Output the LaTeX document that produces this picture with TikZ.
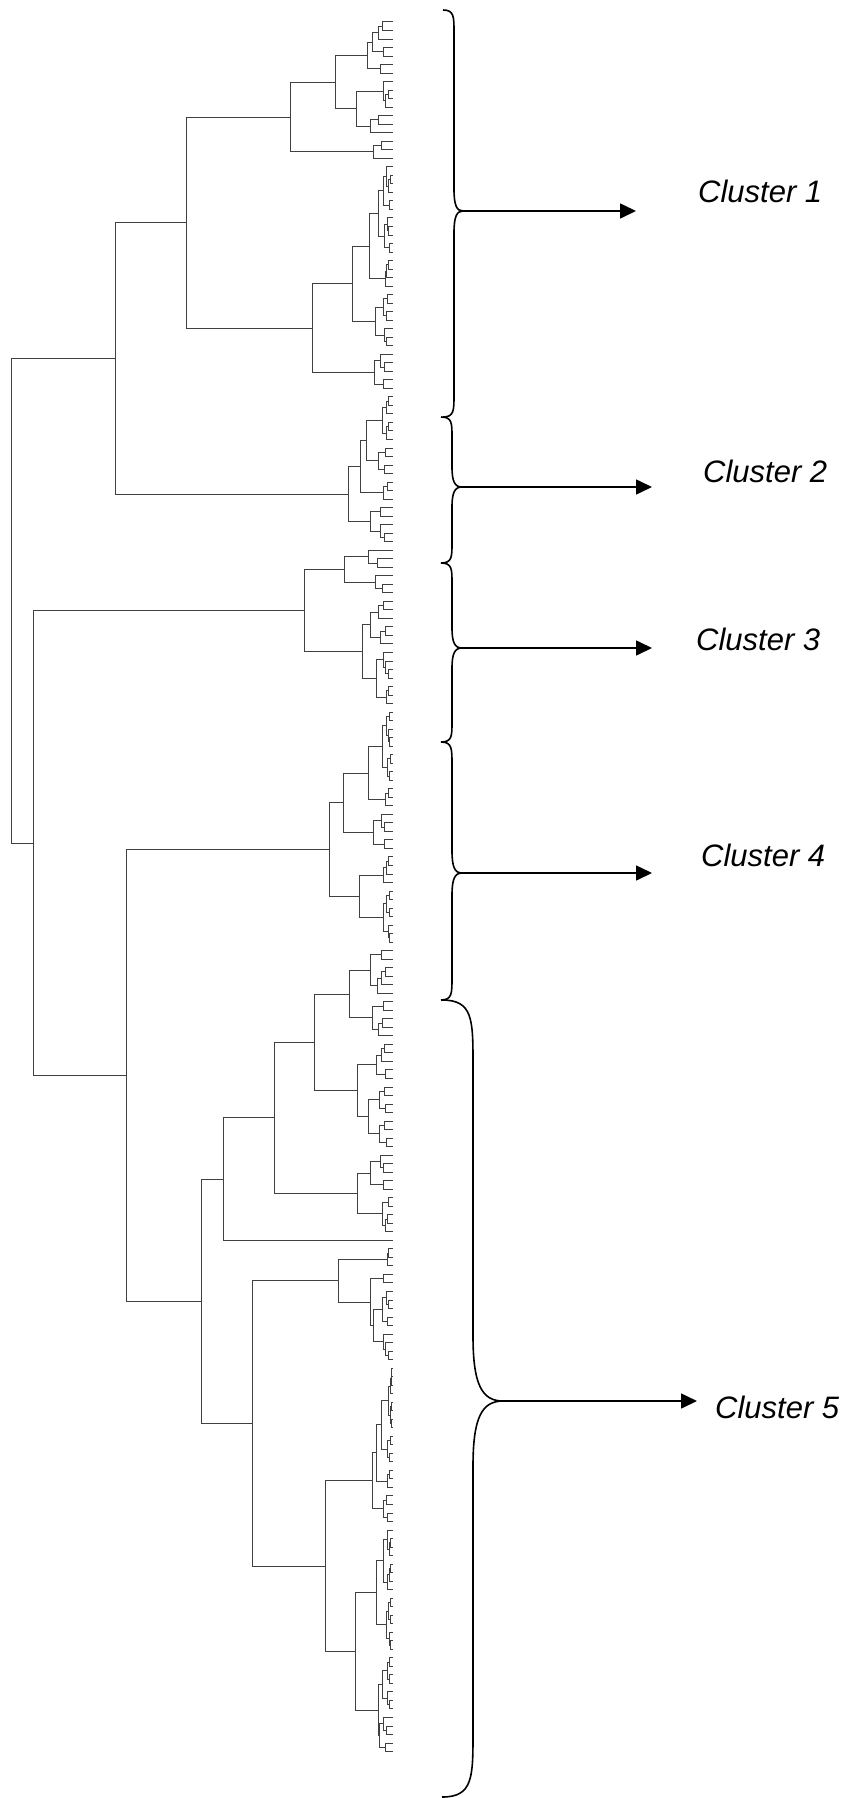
\documentclass[tikz,border=0pt]{standalone}
\usepackage{fontspec}
\setmainfont{Liberation Sans}
\usetikzlibrary{calc,arrows.meta}
\def\dgXL{393}
\def\dgLS{8.52}
\def\dgYO{22}
% join two named children at column x
\newcommand\dgjoin[4]{%
  \coordinate (jx) at (#2,0);
  \draw[dg] (#3) -- (jx |- #3) -- (jx |- #4) -- (#4);
  \coordinate (#1) at ($(jx |- #3)!0.5!(jx |- #4)$);}
% fringe subtree: name, first leaf index, number of leaves, node column
\newcommand\dgsub[4]{%
  \ifnum#3=1\relax
    \coordinate (#1) at (\dgXL,{\dgYO+#2*\dgLS});
  \else
    \begingroup
      \pgfmathtruncatemacro\dgsa{ifthenelse(#3>6,round(#3/2),max(1,min(#3-1,round(#3*(0.3+0.4*mod(#2*7+#3*3,10)/9)))))}%
      \pgfmathtruncatemacro\dgsb{#3-\dgsa}%
      \pgfmathtruncatemacro\dgib{#2+\dgsa}%
      \pgfmathsetmacro\dgxa{ifthenelse(\dgsa==1,\dgXL,\dgXL-(\dgXL-#4)*pow(\dgsa/#3,0.6)*(0.75+0.2*mod(#2*5+\dgsa,4)/3))}%
      \pgfmathsetmacro\dgxb{ifthenelse(\dgsb==1,\dgXL,\dgXL-(\dgXL-#4)*pow(\dgsb/#3,0.6)*(0.75+0.2*mod(\dgib*3+\dgsb,5)/4))}%
      \edef\dgnext{\noexpand\dgsub{#1a}{#2}{\dgsa}{\dgxa}\noexpand\dgsub{#1b}{\dgib}{\dgsb}{\dgxb}\noexpand\dgjoin{#1}{#4}{#1a}{#1b}}%
    \expandafter\endgroup\dgnext
  \fi}
% brace: ytop, ytip, ybot, xv, xtip, xend, r
\newcommand\dgbrace[7]{%
  \draw[br] (#6,#1) .. controls (#4,#1) and (#4,{#1+0.3*#7}) .. (#4,{#1+#7})
    -- (#4,{#2-#7}) .. controls (#4,{#2-0.25*#7}) and ({#4+0.3*(#5-#4)},#2) .. (#5,#2)
    .. controls ({#4+0.3*(#5-#4)},#2) and (#4,{#2+0.25*#7}) .. (#4,{#2+#7})
    -- (#4,{#3-#7}) .. controls (#4,{#3-0.3*#7}) and (#4,#3) .. (#6,#3);}
\begin{document}
\begin{tikzpicture}[x=1pt,y=-1pt,
  dg/.style={line width=1pt,draw=black!75},
  br/.style={line width=1.6pt,draw=black},
  arr/.style={line width=1.6pt,draw=black,-{Triangle[length=16pt,width=15pt]}},
  lab/.style={font={\fontsize{31}{36}\selectfont\itshape},anchor=base west,inner sep=0pt}]
\useasboundingbox (0,0) rectangle (847,1798);
% ---------- Cluster 1 ----------
\dgsub{g1a}{0}{5}{372}
\dgsub{g1b}{5}{2}{380}
\dgjoin{g1}{367}{g1a}{g1b}
\dgsub{g2a}{7}{4}{383}
\dgsub{g2b}{11}{3}{370}
\dgjoin{g2}{356}{g2a}{g2b}
\dgjoin{b1a}{335}{g1}{g2}
\dgsub{g3}{14}{3}{373}
\dgjoin{b1}{290}{b1a}{g3}
\dgsub{g4}{17}{11}{378}
\dgsub{g5}{28}{4}{385}
\dgjoin{n369}{369}{g4}{g5}
\dgsub{g6}{32}{7}{375}
\dgjoin{n352}{352}{n369}{g6}
\dgsub{g7}{39}{5}{374}
\dgjoin{b2}{312}{n352}{g7}
\dgjoin{b}{186}{b1}{b2}
% ---------- Cluster 2 ----------
\dgsub{h1}{44}{6}{382}
\dgsub{h2}{50}{4}{378}
\dgjoin{n366}{366}{h1}{h2}
\dgsub{h3}{54}{3}{383}
\dgjoin{n360}{360}{n366}{h3}
\dgsub{h4}{57}{5}{370}
\dgjoin{c2}{348}{n360}{h4}
\dgjoin{a}{115}{b}{c2}
% ---------- Cluster 3 ----------
\dgsub{k1}{62}{3}{368}
\dgsub{k2}{65}{3}{375}
\dgjoin{n344}{344}{k1}{k2}
\dgsub{k3}{68}{6}{370}
\dgsub{k4a}{74}{4}{383}
\dgsub{k4b}{78}{3}{386}
\dgjoin{k4}{376}{k4a}{k4b}
\dgjoin{n362}{362}{k3}{k4}
\dgjoin{c3}{304}{n344}{n362}
% ---------- Cluster 4 ----------
\dgsub{m1}{81}{9}{382}
\dgsub{m2}{90}{3}{385}
\dgjoin{n368}{368}{m1}{m2}
\dgsub{m3}{93}{5}{373}
\dgjoin{n343}{343}{n368}{m3}
\dgsub{m4}{98}{4}{383}
\dgsub{m5}{102}{7}{383}
\dgjoin{n359}{359}{m4}{m5}
\dgjoin{c4}{329}{n343}{n359}
% ---------- Cluster 5 ----------
\dgsub{p1}{109}{6}{370}
\dgsub{p2}{115}{5}{372}
\dgjoin{q349}{349}{p1}{p2}
\dgsub{p3}{120}{5}{376}
\dgsub{p4}{125}{8}{368}
\dgjoin{q357}{357}{p3}{p4}
\dgjoin{q314}{314}{q349}{q357}
\dgsub{p5}{133}{5}{370}
\dgsub{p6}{138}{5}{382}
\dgjoin{q357b}{357}{p5}{p6}
\dgjoin{q274}{274}{q314}{q357b}
\dgsub{p7}{143}{1}{223}
\dgjoin{q223}{223}{q274}{p7}
\dgsub{p8}{144}{3}{387}
\dgsub{p9a}{147}{2}{383}
\dgsub{p9ba}{149}{5}{382}
\dgsub{p9bb}{154}{4}{383}
\dgjoin{p9b}{373}{p9ba}{p9bb}
\dgjoin{p9}{370}{p9a}{p9b}
\dgjoin{q338}{338}{p8}{p9}
\dgsub{r1}{158}{8}{388}
\dgsub{r2}{166}{4}{387}
\dgjoin{r12}{381}{r1}{r2}
\dgsub{r3}{170}{3}{387}
\dgjoin{r123}{376}{r12}{r3}
\dgsub{p11}{173}{4}{383}
\dgjoin{q371}{372}{r123}{p11}
\dgsub{s1}{177}{8}{383}
\dgsub{s2}{185}{7}{386}
\dgjoin{s12}{376}{s1}{s2}
\dgsub{s3}{192}{7}{382}
\dgsub{s4}{199}{5}{379}
\dgjoin{s34}{378}{s3}{s4}
\dgjoin{q355}{355}{s12}{s34}
\dgjoin{q325}{325}{q371}{q355}
\dgjoin{q252}{252}{q338}{q325}
\dgjoin{c5}{201}{q223}{q252}
% ---------- upper levels ----------
\dgjoin{d}{126}{c4}{c5}
\dgjoin{c}{33}{c3}{d}
\dgjoin{root}{11}{a}{c}
% ---------- braces ----------
\dgbrace{10}{211}{417}{454}{463}{443}{22}
\dgbrace{417}{487}{563}{452}{462}{441}{20}
\dgbrace{563}{648}{742}{452}{462}{441}{20}
\dgbrace{742}{873}{1000}{452}{462}{441}{22}
\dgbrace{1000}{1401}{1797}{473}{503}{442}{65}
% ---------- arrows ----------
\coordinate (t1) at (463,211);  \coordinate (e1) at (636,211);
\coordinate (t2) at (462,487);  \coordinate (e2) at (652,487);
\coordinate (t3) at (462,648);  \coordinate (e3) at (652,648);
\coordinate (t4) at (462,873);  \coordinate (e4) at (652,873);
\coordinate (t5) at (503,1401); \coordinate (e5) at (697,1401);
\draw[arr] (t1) -- (e1);
\draw[arr] (t2) -- (e2);
\draw[arr] (t3) -- (e3);
\draw[arr] (t4) -- (e4);
\draw[arr] (t5) -- (e5);
% ---------- labels ----------
\node[lab] (l1) at (698,203) {Cluster 1};
\node[lab] (l2) at (703,482) {Cluster 2};
\node[lab] (l3) at (696,650) {Cluster 3};
\node[lab] (l4) at (701,866) {Cluster 4};
\node[lab] (l5) at (715,1418) {Cluster 5};
\end{tikzpicture}
\end{document}
